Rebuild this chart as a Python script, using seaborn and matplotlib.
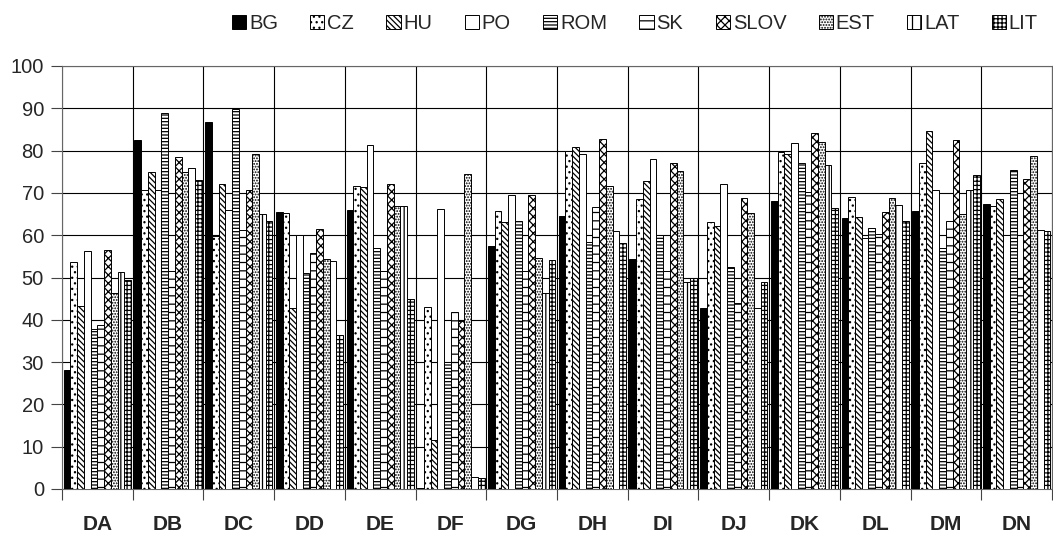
import matplotlib

matplotlib.use("Agg")
import matplotlib.pyplot as plt
import numpy as np
import pandas as pd
import seaborn as sns
from matplotlib.patches import Patch

sns.set_theme(style="white")
plt.rcParams["font.family"] = ["Liberation Sans", "DejaVu Sans"]
plt.rcParams["hatch.linewidth"] = 0.9

GROUPS = ["DA", "DB", "DC", "DD", "DE", "DF", "DG", "DH", "DI", "DJ", "DK", "DL", "DM", "DN"]
COUNTRIES = ["BG", "CZ", "HU", "PO", "ROM", "SK", "SLOV", "EST", "LAT", "LIT"]

BG = [28.1, 82.5, 86.7, 65.6, 66.0, 0.2, 57.5, 64.6, 54.4, 42.7, 68.0, 64.0, 65.7, 67.4]
CZ = [53.7, 70.7, 59.9, 65.2, 71.6, 43.1, 65.8, 80.0, 68.5, 63.2, 79.6, 69.0, 77.0, 67.0]
HU = [43.3, 74.9, 72.1, 42.7, 71.4, 11.7, 63.2, 80.8, 72.7, 62.2, 79.1, 64.4, 84.7, 68.5]
PO = [56.3, 70.7, 66.0, 60.0, 81.4, 66.1, 69.6, 79.3, 77.9, 72.0, 81.7, 59.3, 70.7, 60.0]
ROM = [37.9, 89.0, 89.8, 51.1, 56.9, 30.0, 63.4, 58.3, 60.0, 52.4, 77.0, 61.6, 56.9, 75.4]
SK = [38.8, 51.5, 61.2, 55.7, 51.6, 41.8, 51.6, 66.7, 51.6, 43.9, 70.1, 60.2, 63.4, 50.0]
SLOV = [56.6, 78.4, 70.7, 61.4, 72.1, 39.8, 69.4, 82.7, 77.0, 68.9, 84.1, 65.6, 82.5, 73.3]
EST = [46.3, 74.9, 79.1, 54.3, 67.0, 74.4, 54.7, 71.6, 75.2, 65.2, 82.0, 68.7, 65.1, 78.8]
LAT = [51.2, 76.0, 64.9, 53.9, 67.0, 2.9, 46.4, 61.1, 48.9, 42.7, 76.7, 67.1, 70.6, 61.2]
LIT = [49.4, 73.0, 63.4, 36.3, 45.0, 2.5, 54.1, 58.2, 50.0, 49.0, 66.4, 63.3, 74.2, 61.0]

SERIES = [BG, CZ, HU, PO, ROM, SK, SLOV, EST, LAT, LIT]

# fill + hatch per country (black & white print style)
FILLS = ["black"] + ["white"] * 9
HATCHES = ["", "...", "\\" * 6, "", "-----", "--", "xxxx", "......", "||", "++++"]

df = pd.DataFrame(
    [(g, c, v) for c, vals in zip(COUNTRIES, SERIES) for g, v in zip(GROUPS, vals)],
    columns=["group", "country", "value"],
)

fig = plt.figure(figsize=(10.53, 5.38), dpi=100)
ax = fig.add_axes([62 / 1053, 49 / 538, 990 / 1053, 423 / 538])

sns.barplot(
    data=df,
    x="group",
    y="value",
    hue="country",
    order=GROUPS,
    hue_order=COUNTRIES,
    palette=dict(zip(COUNTRIES, FILLS)),
    width=0.95,
    edgecolor="black",
    linewidth=0.7,
    legend=False,
    ax=ax,
)

for cont, h in zip(ax.containers, HATCHES):
    for bar in cont:
        bar.set_hatch(h)
        bar.set_zorder(3)

ax.set_xlim(-0.5, len(GROUPS) - 0.5)
ax.set_ylim(0, 100)
ax.set_yticks(np.arange(0, 101, 10))
ax.set_xticks(np.arange(len(GROUPS) + 1) - 0.5, minor=True)
ax.tick_params(axis="x", which="major", length=0, pad=19)
ax.tick_params(axis="x", which="minor", length=8, width=0.8, color="#444444", direction="out", bottom=True)
ax.tick_params(axis="y", length=8, width=0.8, color="#444444", direction="out", left=True, labelsize=14.5, pad=5)
for lab in ax.get_xticklabels():
    lab.set_fontweight("bold")
    lab.set_fontsize(15)

ax.grid(axis="y", color="black", linewidth=0.8, zorder=0)
ax.grid(axis="x", which="minor", color="black", linewidth=0.8, zorder=0)
ax.set_axisbelow(True)
for s in ax.spines.values():
    s.set_color("#666666")
    s.set_linewidth(0.8)
ax.set_xlabel("")
ax.set_ylabel("")

handles = [
    Patch(facecolor=f, edgecolor="black", hatch=h, linewidth=0.7)
    for f, h in zip(FILLS, HATCHES)
]
fig.legend(
    handles,
    COUNTRIES,
    loc="upper center",
    bbox_to_anchor=(0.603, 1.008),
    ncol=10,
    frameon=False,
    fontsize=14.5,
    handlelength=0.7,
    handleheight=0.7,
    handletextpad=0.15,
    columnspacing=1.6,
)

fig.savefig("out.png", dpi=100)
